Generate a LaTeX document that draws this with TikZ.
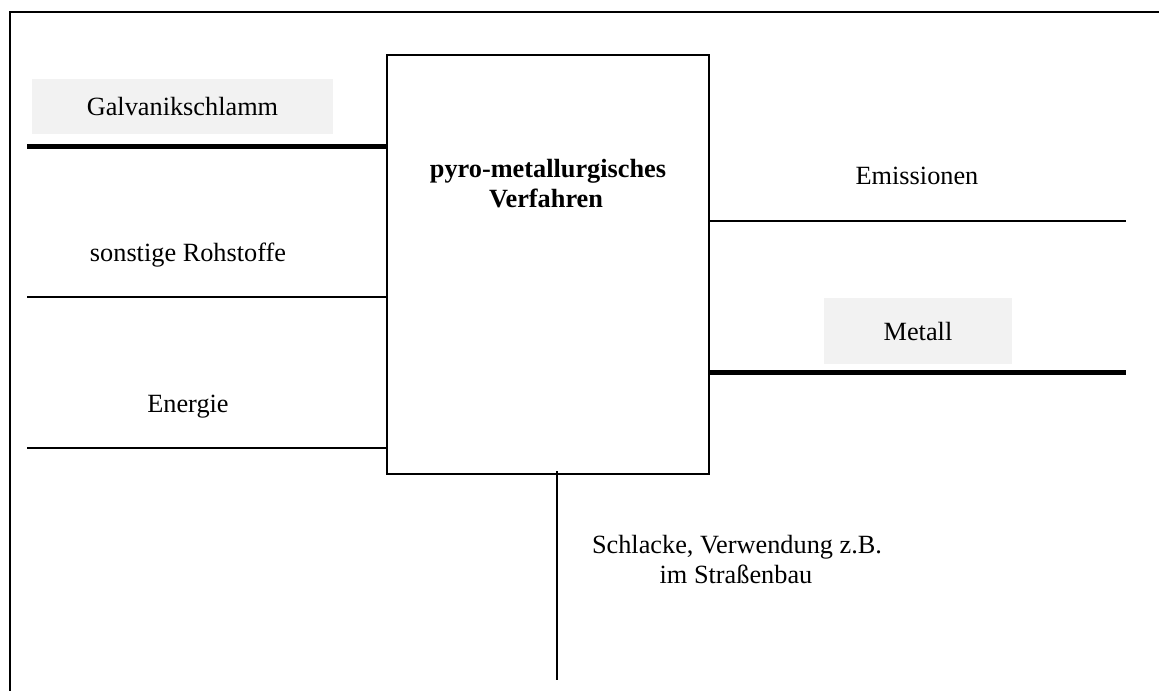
\documentclass[tikz,border=0pt]{standalone}
\usepackage{fontspec}
\setmainfont{Liberation Serif}
\definecolor{boxgray}{HTML}{F2F2F2}
\tikzset{
  lbl/.style={font=\fontsize{26.3}{30}\selectfont, inner sep=0pt},
  grayfill/.style={fill=boxgray, draw=none, inner sep=0pt, font=\fontsize{26.3}{30}\selectfont},
  thinline/.style={line width=1.8pt},
  thickline/.style={line width=5pt},
  frameline/.style={line width=2.2pt}
}
\begin{document}
\begin{tikzpicture}[x=1pt,y=-1pt]
\useasboundingbox (0,0) rectangle (1159,691);
% outer partial frame
\draw[frameline] (9,12) -- (1159,12);
\draw[frameline] (10,11) -- (10,691);

% process box
\node[draw, line width=2pt, minimum width=322pt, minimum height=419pt, inner sep=0pt] (proc) at (548,264.5) {};
\node[lbl, anchor=base, font=\fontsize{26.3}{30}\selectfont\bfseries] (ptitleA) at (548,177) {pyro-metallurgisches};
\node[lbl, anchor=base, font=\fontsize{26.3}{30}\selectfont\bfseries] (ptitleB) at (546,207) {Verfahren};

% inputs
\node[grayfill, minimum width=301pt, minimum height=55pt] (galv) at (182.5,106.5) {Galvanikschlamm};
\coordinate (inA) at (27,146);
\draw[thickline] (inA) -- (proc.west |- inA);

\node[lbl, anchor=base] (roh) at (188,261) {sonstige Rohstoffe};
\coordinate (inB) at (27,297);
\draw[thinline] (inB) -- (proc.west |- inB);

\node[lbl, anchor=base] (energ) at (188,412) {Energie};
\coordinate (inC) at (27,448);
\draw[thinline] (inC) -- (proc.west |- inC);

% outputs
\node[lbl, anchor=base] (emis) at (917,184) {Emissionen};
\coordinate (outA) at (1126,221);
\draw[thinline] (proc.east |- outA) -- (outA);

\node[grayfill, minimum width=188pt, minimum height=66pt] (metall) at (918,331) {Metall};
\coordinate (outB) at (1126,372);
\draw[thickline] (proc.east |- outB) -- (outB);

% slag
\coordinate (slagTop) at (557,471);
\coordinate (slagEnd) at (557,680);
\draw[thinline] (slagTop) -- (slagEnd);
\node[lbl, anchor=base] (slagA) at (737,553) {Schlacke, Verwendung z.B.};
\node[lbl, anchor=base] (slagB) at (736,583) {im Straßenbau};
\end{tikzpicture}
\end{document}
